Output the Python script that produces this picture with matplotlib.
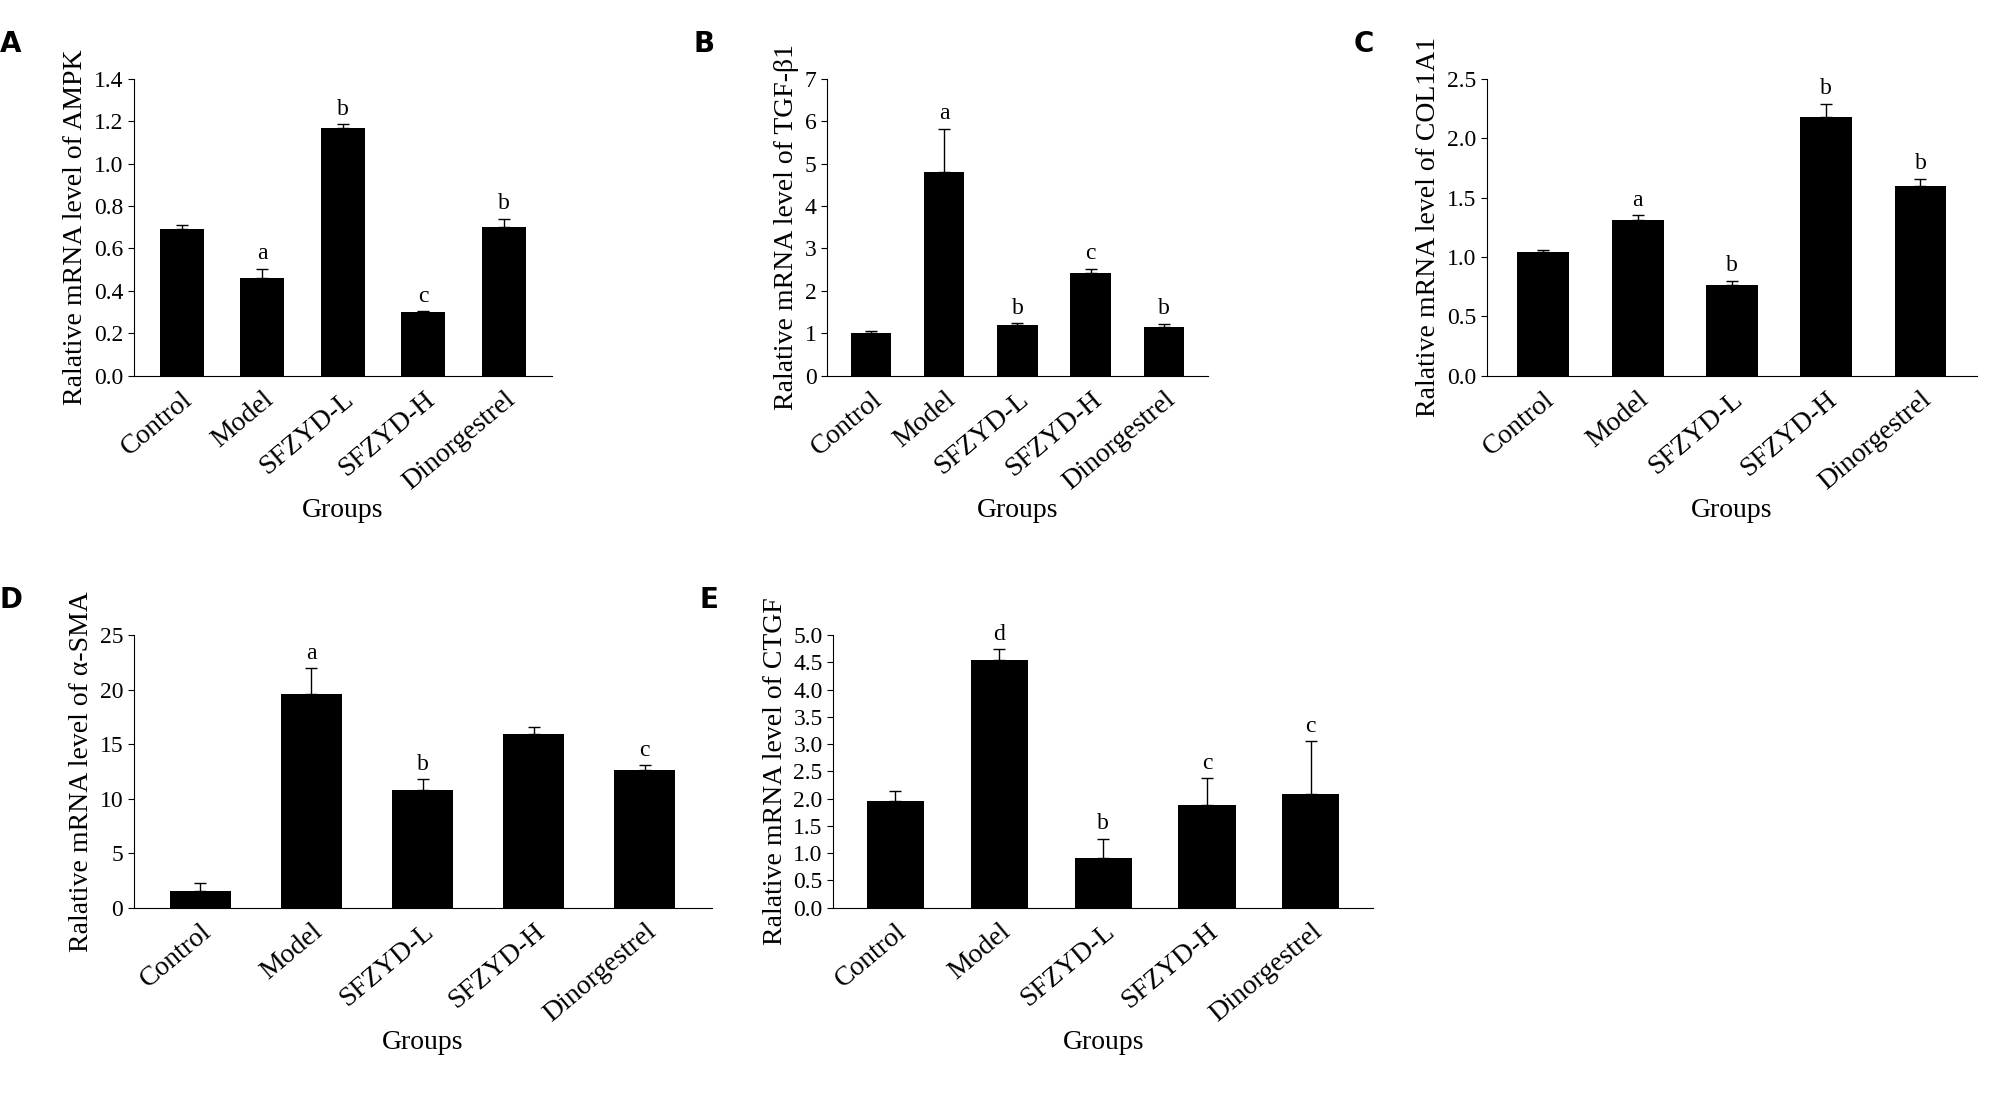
import matplotlib
matplotlib.use("Agg")
import matplotlib.pyplot as plt
import numpy as np

groups = ["Control", "Model", "SFZYD-L", "SFZYD-H", "Dinorgestrel"]

ampk = [0.69, 0.46, 1.17, 0.30, 0.70]
ampk_err = [0.02, 0.045, 0.015, 0.003, 0.04]
ampk_sig = ["", "a", "b", "c", "b"]

tgf = [1.0, 4.8, 1.2, 2.42, 1.15]
tgf_err = [0.05, 1.02, 0.04, 0.1, 0.07]
tgf_sig = ["", "a", "b", "c", "b"]

col = [1.04, 1.31, 0.76, 2.18, 1.60]
col_err = [0.02, 0.04, 0.04, 0.11, 0.06]
col_sig = ["", "a", "b", "b", "b"]

sma = [1.5, 19.6, 10.8, 15.9, 12.6]
sma_err = [0.8, 2.4, 1.0, 0.7, 0.5]
sma_sig = ["", "a", "b", "", "c"]

ctgf = [1.95, 4.55, 0.92, 1.88, 2.08]
ctgf_err = [0.2, 0.2, 0.35, 0.5, 0.97]
ctgf_sig = ["", "d", "b", "c", "c"]

plt.rcParams.update({"font.family": "Liberation Serif", "font.size": 17})

fig = plt.figure(figsize=(19.93, 10.95), dpi=100)

panels = [
    ("A", [0.067, 0.657, 0.210, 0.271], ampk, ampk_err, ampk_sig, "AMPK", 1.4, 0.2, "%.1f"),
    ("B", [0.415, 0.657, 0.191, 0.271], tgf, tgf_err, tgf_sig, "TGF-β1", 7, 1, "%d"),
    ("C", [0.746, 0.657, 0.246, 0.271], col, col_err, col_sig, "COL1A1", 2.5, 0.5, "%.1f"),
    ("D", [0.067, 0.171, 0.290, 0.249], sma, sma_err, sma_sig, "α-SMA", 25, 5, "%d"),
    ("E", [0.418, 0.171, 0.271, 0.249], ctgf, ctgf_err, ctgf_sig, "CTGF", 5.0, 0.5, "%.1f"),
]

for letter, rect, vals, errs, sig, name, ymax, step, fmt in panels:
    ax = fig.add_axes(rect)
    x = np.arange(len(groups))
    ax.bar(x, vals, width=0.55, color="black", zorder=2)
    ax.errorbar(x, vals, yerr=[np.zeros(len(errs)), errs], fmt="none",
                ecolor="black", elinewidth=1, capsize=4, capthick=1, zorder=1)
    for xi, v, e, s in zip(x, vals, errs, sig):
        if s:
            ax.text(xi, v + e + ymax * 0.015, s, ha="center", va="bottom", fontsize=17)
    ax.set_xlim(-0.6, len(groups) - 0.4)
    ax.set_ylim(0, ymax)
    ticks = np.arange(0, ymax + step / 2, step)
    ax.set_yticks(ticks)
    ax.set_yticklabels([fmt % t for t in ticks])
    ax.set_xticks(x)
    ax.set_xticklabels(groups, rotation=40, ha="right", rotation_mode="anchor", fontsize=20)
    ax.tick_params(axis="y", labelsize=17, direction="out", length=4)
    ax.tick_params(axis="x", length=0, pad=8)
    for s in ("top", "right"):
        ax.spines[s].set_visible(False)
    ax.set_xlabel("Groups", fontsize=20, labelpad=2)
    ax.set_ylabel("Ralative mRNA level of " + name, fontsize=20)
    fig.text(rect[0] - 0.067, rect[1] + rect[3] + 0.045, letter, fontsize=20,
             fontweight="bold", family="DejaVu Sans", va="top")

fig.savefig("out.png", dpi=100)
